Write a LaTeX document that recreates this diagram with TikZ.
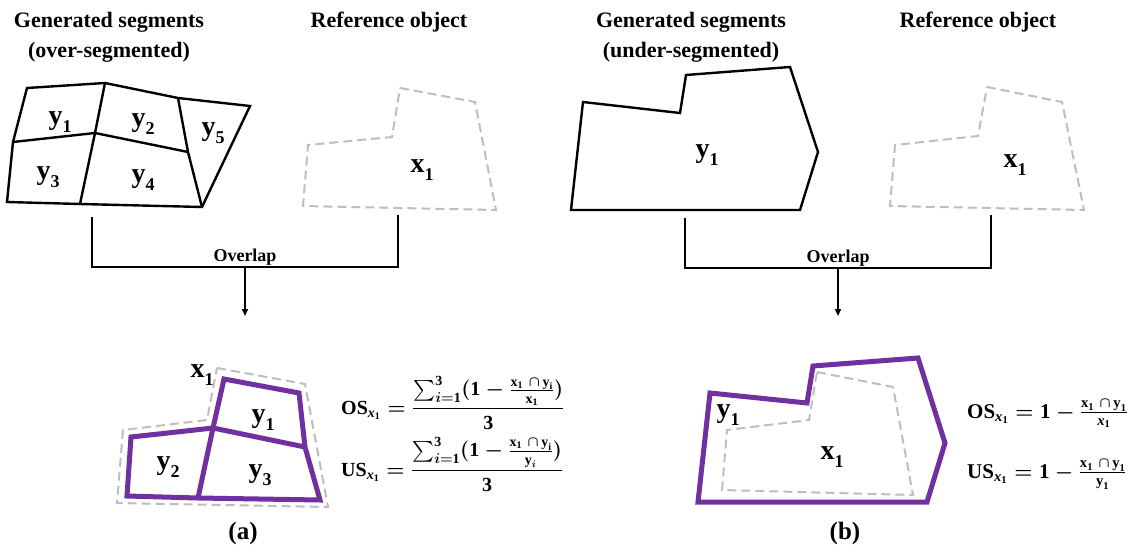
\documentclass[tikz,border=0pt]{standalone}
\usepackage{amsmath}
\usepackage{fontspec}
\setmainfont{Liberation Serif}
\usetikzlibrary{arrows.meta}
\definecolor{segpurple}{RGB}{112,48,160}
\definecolor{refgray}{RGB}{190,190,190}
\newcommand{\subl}[2]{#1\raisebox{-0.28em}{\fontsize{18}{18}\selectfont #2}}
\newcommand{\mybf}[1]{\textbf{#1}}
\newcommand{\myxone}{\mybf{x}_{\mybf{1}}}
\newcommand{\myyone}{\mybf{y}_{\mybf{1}}}
\newcommand{\myyi}{\mybf{y}_{\mybf{i}}}
\newcommand{\myxit}{\mybf{\textit{x}}_{\mybf{1}}}
\begin{document}
\begin{tikzpicture}[x=1pt,y=-1pt,
  seg/.style={draw=black, line width=2.4pt, line join=miter},
  refshape/.style={draw=refgray, line width=2pt, dash pattern=on 9pt off 5pt},
  ovshape/.style={draw=segpurple, line width=5pt, line join=miter},
  bracket/.style={draw=black, line width=1.5pt},
  arr/.style={bracket, -{Triangle[length=7pt,width=6pt]}},
  title/.style={font=\fontsize{22}{30}\selectfont\bfseries, align=center, inner sep=0pt},
  lab/.style={font=\fontsize{28}{30}\selectfont\bfseries, inner sep=0pt},
  small/.style={font=\fontsize{18}{20}\selectfont\bfseries, inner sep=0pt},
  capt/.style={font=\fontsize{25}{28}\selectfont\bfseries, inner sep=0pt},
  eq/.style={font=\fontsize{21}{25}\selectfont\boldmath, anchor=base west, inner sep=0pt},
  eqa/.style={eq, font=\fontsize{20}{24}\selectfont\boldmath}]
\useasboundingbox (0,0) rectangle (1147,551);
\fill[white] (0,0) rectangle (1147,551);

% ---------- (a) titles ----------
\node[title] (ta1) at (109,37) {Generated segments\\(over-segmented)};
\node[title] (ta2) at (389,22) {Reference object};

% over-segmented polygon
\draw[seg] (27,88) -- (105,83) -- (178,98) -- (250,106) -- (202,207) -- (80,204) -- (7,202) -- (13,142) -- cycle;
\draw[seg] (105,83) -- (95,133) -- (80,204);
\draw[seg] (13,142) -- (95,133) -- (188,152);
\draw[seg] (178,98) -- (188,152) -- (202,207);
\node[lab] (ay1) at (60,122) {\subl{y}{1}};
\node[lab] (ay2) at (143,124) {\subl{y}{2}};
\node[lab] (ay5) at (213,133) {\subl{y}{5}};
\node[lab] (ay3) at (48,177) {\subl{y}{3}};
\node[lab] (ay4) at (143,180) {\subl{y}{4}};

% reference object (a)
\draw[refshape] (400,88) -- (475,102) -- (496,210) -- (303,206) -- (308,145) -- (392,137) -- cycle;
\node[lab] (ax1) at (422,170) {\subl{x}{1}};

% bracket (a)
\coordinate (aL) at (92,217);
\coordinate (aLb) at (92,267);
\coordinate (aR) at (398,215);
\coordinate (aRb) at (398,267);
\coordinate (aM) at (245,267);
\coordinate (aT) at (245,316);
\draw[bracket] (aL) -- (aLb) -- (aRb) -- (aR);
\draw[arr] (aM) -- (aT);
\node[small, anchor=base] (aov) at (245,261) {Overlap};

% overlap (a)
\draw[refshape] (217,368) -- (305,384) -- (328,507) -- (117,503) -- (123,430) -- (207,420) -- cycle;
\draw[ovshape] (224,379) -- (299,393) -- (305,447) -- (320,500) -- (198,498) -- (127,496) -- (131,437) -- (213,428) -- cycle;
\draw[ovshape] (213,428) -- (305,447);
\draw[ovshape] (213,428) -- (198,498);
\node[lab] (bx1) at (202,375) {\subl{x}{1}};
\node[lab] (by1) at (263,420) {\subl{y}{1}};
\node[lab] (by2) at (168,467) {\subl{y}{2}};
\node[lab] (by3) at (260,475) {\subl{y}{3}};

\node[eqa] (osa) at (341,414) {$\mybf{OS}_{\myxit} = {\displaystyle\frac{\sum_{i=\mybf{1}}^{\mybf{3}}(\mybf{1}-\frac{\myxone\,\,\cap\,\myyi}{\myxone})}{\mybf{3}}}$};
\node[eqa] (usa) at (341,476) {$\mybf{US}_{\myxit} = {\displaystyle\frac{\sum_{i=\mybf{1}}^{\mybf{3}}(\mybf{1}-\frac{\myxone\,\,\cap\,\myyi}{\mybf{y}_{i}})}{\mybf{3}}}$};

\node[capt] (capa) at (243,533) {(a)};

% ---------- (b) titles ----------
\node[title] (tb1) at (691,37) {Generated segments\\(under-segmented)};
\node[title] (tb2) at (978,22) {Reference object};

\draw[seg] (583,102) -- (680,113) -- (686,75) -- (790,67) -- (818,152) -- (800,210) -- (571,210) -- cycle;
\node[lab] (cy1) at (707,155) {\subl{y}{1}};

\draw[refshape] (987,87) -- (1062,102) -- (1084,210) -- (890,206) -- (895,145) -- (978,136) -- cycle;
\node[lab] (cx1) at (1015,165) {\subl{x}{1}};

% bracket (b)
\coordinate (bL) at (685,218);
\coordinate (bLb) at (685,268);
\coordinate (bR) at (991,215);
\coordinate (bRb) at (991,268);
\coordinate (bM) at (838,268);
\coordinate (bT) at (838,316);
\draw[bracket] (bL) -- (bLb) -- (bRb) -- (bR);
\draw[arr] (bM) -- (bT);
\node[small, anchor=base] (bov) at (838,262) {Overlap};

% overlap (b)
\draw[refshape] (817,372) -- (893,387) -- (913,495) -- (722,490) -- (727,430) -- (809,420) -- cycle;
\draw[ovshape] (710,393) -- (807,403) -- (813,366) -- (918,358) -- (945,443) -- (927,502) -- (698,502) -- cycle;
\node[lab] (dy1) at (728,415) {\subl{y}{1}};
\node[lab] (dx1) at (832,457) {\subl{x}{1}};

\node[eq] (osb) at (967,418) {$\mybf{OS}_{\myxit} = \mybf{1}-\frac{\myxone\,\,\cap\,\myyone}{\myxit}$};
\node[eq] (usb) at (967,478) {$\mybf{US}_{\myxit} = \mybf{1}-\frac{\myxone\,\,\cap\,\myyone}{\myyone}$};

\node[capt] (capb) at (845,533) {(b)};
\end{tikzpicture}
\end{document}
